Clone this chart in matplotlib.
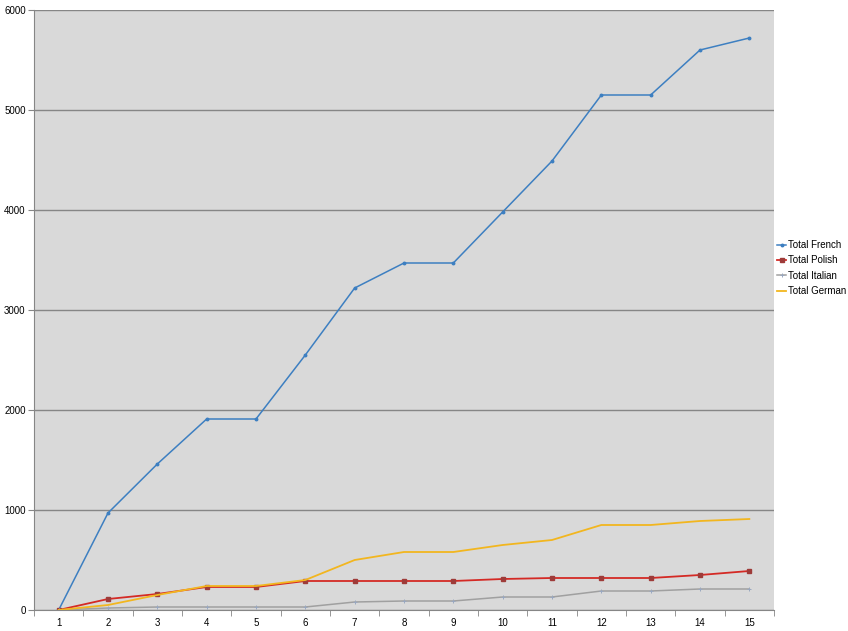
import matplotlib
matplotlib.use("Agg")
import matplotlib.pyplot as plt
import numpy as np

plt.rcParams["font.family"] = ["Liberation Sans", "DejaVu Sans"]

# data
days = list(range(1, 16))
french = [0, 970, 1460, 1910, 1910, 2550, 3220, 3470, 3470, 3980, 4490, 5150, 5150, 5600, 5720]
polish = [0, 110, 160, 230, 230, 290, 290, 290, 290, 310, 320, 320, 320, 350, 390]
italian = [0, 20, 30, 30, 30, 30, 80, 90, 90, 130, 130, 190, 190, 210, 210]
german = [0, 50, 150, 240, 240, 300, 500, 580, 580, 650, 700, 850, 850, 890, 910]

W, H = 848, 631
fig = plt.figure(figsize=(W / 100, H / 100), dpi=100)
ax = fig.add_axes([34 / W, (H - 610) / H, (774 - 34) / W, 600 / H])
ax.set_facecolor("#d9d9d9")

x = np.arange(len(days))
ax.plot(x, french, color="#3d7fc1", lw=1.1, marker="o", ms=1.8, label="Total French")
ax.plot(x, polish, color="#d42a25", lw=1.3, marker="s", ms=2.2,
        mfc="#9e3b39", mec="#9e3b39", label="Total Polish")
ax.plot(x, italian, color="#a0a0a0", lw=1.1, marker="+", ms=3.5, mew=0.7,
        mec="#9aa8c0", label="Total Italian")
ax.plot(x, german, color="#f2b61f", lw=1.3, label="Total German")

ax.set_xlim(-0.5, len(days) - 0.5)
ax.set_ylim(0, 6000)
ax.set_yticks(range(0, 6001, 1000))
ax.yaxis.grid(True, color="#868686", lw=1)
ax.set_axisbelow(True)

ax.set_xticks(x)
ax.set_xticklabels([str(d) for d in days], fontsize=7)
ax.set_xticks(np.arange(-0.5, len(days)), minor=True)
ax.tick_params(axis="x", which="major", length=0, pad=6)
ax.tick_params(axis="x", which="minor", length=4, color="#868686")
ax.tick_params(axis="y", length=4, color="#868686", labelsize=7, pad=2)

for s in ["top", "right"]:
    ax.spines[s].set_visible(False)
for s in ["left", "bottom"]:
    ax.spines[s].set_color("#868686")

ax.legend(loc="center left", bbox_to_anchor=(0.998, 0.57), frameon=False,
          fontsize=7, handlelength=0.9, handletextpad=0.2, labelspacing=0.55,
          borderpad=0.2, borderaxespad=0.3)

fig.savefig("out.png", dpi=100)
